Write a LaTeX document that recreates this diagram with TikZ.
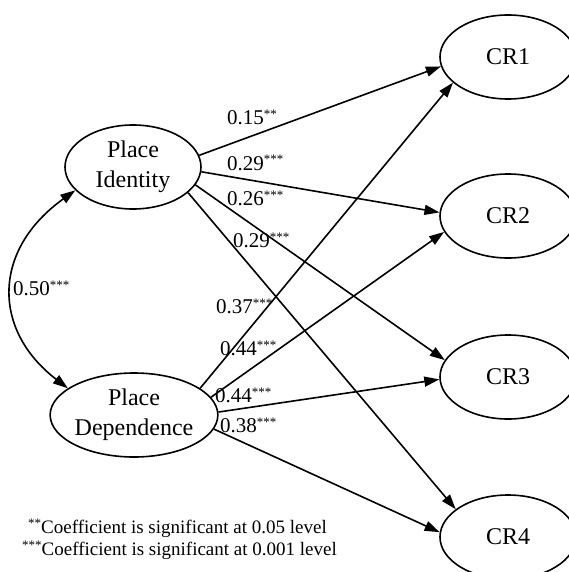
\documentclass[tikz,border=0pt]{standalone}
\usepackage{fontspec}
\setmainfont{Liberation Serif}
\usetikzlibrary{shapes.geometric,arrows.meta}
\tikzset{
  latent/.style={ellipse,draw,line width=1.6pt,inner sep=0pt,minimum width=136pt,minimum height=84pt,align=center,font=\fontsize{24}{30}\selectfont},
  arr/.style={line width=1.6pt,-{Triangle[length=15pt,width=10pt]}},
  coef/.style={anchor=base west,inner sep=0pt,font=\fontsize{21}{21}\selectfont},
  legend/.style={anchor=base west,inner sep=0pt,font=\fontsize{19}{19}\selectfont}
}
\newcommand{\stars}[1]{\raisebox{6pt}{\fontsize{13}{13}\selectfont #1}}
\begin{document}
\begin{tikzpicture}[x=1pt,y=-1pt]
\useasboundingbox (0,0) rectangle (569,572);
\node[latent] (PI) at (133,167) {Place\\Identity};
\node[latent] (PD) at (134,415) {Place\\Dependence};
\node[latent] (CR1) at (508,57) {CR1};
\node[latent] (CR2) at (508,216) {CR2};
\node[latent] (CR3) at (508,377) {CR3};
\node[latent] (CR4) at (508,537) {CR4};

\draw[arr] (PI.10) -- (CR1.188);
\draw[arr] (PI.-4) -- (CR2.177);
\draw[arr] (PI.-16) -- (CR3.165);
\draw[arr] (PI.-25) -- (CR4.152);
\draw[arr] (PD.22) -- (CR1.205);
\draw[arr] (PD.13) -- (CR2.194);
\draw[arr] (PD.2) -- (CR3.182);
\draw[arr] (PD.-10) -- (CR4.176);

\draw[line width=1.6pt,{Triangle[length=15pt,width=10pt]}-{Triangle[length=15pt,width=10pt]}]
  (PI.202) .. controls (-8,250) and (-8,330) .. (PD.158);

\node[coef] (l50) at (13,295) {0.50\stars{***}};
\node[coef] (l1) at (227,125) {0.15\stars{**}};
\node[coef] (l2) at (227,170) {0.29\stars{***}};
\node[coef] (l3) at (227,205) {0.26\stars{***}};
\node[coef] (l4) at (233,247) {0.29\stars{***}};
\node[coef] (l5) at (216,313) {0.37\stars{***}};
\node[coef] (l6) at (220,355) {0.44\stars{***}};
\node[coef] (l7) at (215,402) {0.44\stars{***}};
\node[coef] (l8) at (220,432) {0.38\stars{***}};

\node[legend] (n1) at (28,533) {\stars{**}Coefficient is significant at 0.05 level};
\node[legend] (n2) at (22,555) {\stars{***}Coefficient is significant at 0.001 level};
\end{tikzpicture}
\end{document}
